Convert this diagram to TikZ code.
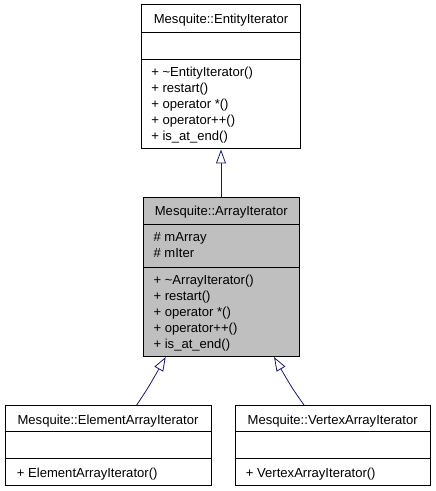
\documentclass[tikz,border=0pt]{standalone}
\usepackage{fontspec}
\setmainfont{Liberation Sans}
\usetikzlibrary{arrows.meta}
\definecolor{edgeblue}{HTML}{191970}
\definecolor{boxgray}{HTML}{BFBFBF}
\begin{document}
\begin{tikzpicture}[x=0.75pt,y=-0.75pt,
  classbox/.style={draw=black,line width=0.75pt,rectangle,inner sep=0pt,fill=white},
  lbl/.style={anchor=base west,inner sep=0pt,font=\fontsize{9.8}{12}\selectfont},
  ttl/.style={anchor=base,inner sep=0pt,font=\fontsize{9.8}{12}\selectfont},
  inh/.style={draw=edgeblue,line width=0.6pt,-{Triangle[open,length=10.5pt,width=7.5pt,fill=white]}}]
\useasboundingbox (0,0) rectangle (435,491);
% boxes
\node[classbox,minimum width=159.4*0.75pt,minimum height=144*0.75pt] (A) at (221,77) {};
\node[classbox,fill=boxgray,minimum width=156*0.75pt,minimum height=159.4*0.75pt] (B) at (221.3,277) {};
\node[classbox,minimum width=206*0.75pt,minimum height=80*0.75pt] (C) at (108,445) {};
\node[classbox,minimum width=194.7*0.75pt,minimum height=80*0.75pt] (D) at (332.7,445) {};
% dividers
\draw[line width=0.75pt] (A.west |- 0,32.3) -- (A.east |- 0,32.3);
\draw[line width=0.75pt] (A.west |- 0,60) -- (A.east |- 0,60);
\draw[line width=0.75pt] (B.west |- 0,224) -- (B.east |- 0,224);
\draw[line width=0.75pt] (B.west |- 0,267.3) -- (B.east |- 0,267.3);
\draw[line width=0.75pt] (C.west |- 0,431.7) -- (C.east |- 0,431.7);
\draw[line width=0.75pt] (C.west |- 0,458.3) -- (C.east |- 0,458.3);
\draw[line width=0.75pt] (D.west |- 0,431.7) -- (D.east |- 0,431.7);
\draw[line width=0.75pt] (D.west |- 0,458.3) -- (D.east |- 0,458.3);
% texts A
\node[ttl] (At) at (221,23.5) {Mesquite::EntityIterator};
\node[lbl] (Am1) at (151,76.5) {+ \textasciitilde EntityIterator()};
\node[lbl] (Am2) at (151,92.4) {+ restart()};
\node[lbl] (Am3) at (151,108.3) {+ operator *()};
\node[lbl] (Am4) at (151,124.2) {+ operator++()};
\node[lbl] (Am5) at (151,140.1) {+ is\_at\_end()};
% texts B
\node[ttl] (Bt) at (221.3,215) {Mesquite::ArrayIterator};
\node[lbl] (Ba1) at (153.3,241) {\# mArray};
\node[lbl] (Ba2) at (153.3,257) {\# mIter};
\node[lbl] (Bm1) at (153.3,284.5) {+ \textasciitilde ArrayIterator()};
\node[lbl] (Bm2) at (153.3,300.4) {+ restart()};
\node[lbl] (Bm3) at (153.3,316.3) {+ operator *()};
\node[lbl] (Bm4) at (153.3,332.2) {+ operator++()};
\node[lbl] (Bm5) at (153.3,348.1) {+ is\_at\_end()};
% texts C, D
\node[ttl] (Ct) at (108,424.5) {Mesquite::ElementArrayIterator};
\node[lbl] (Cm1) at (16.7,477) {+ ElementArrayIterator()};
\node[ttl] (Dt) at (332.7,424.5) {Mesquite::VertexArrayIterator};
\node[lbl] (Dm1) at (245.7,477) {+ VertexArrayIterator()};
% connectors
\coordinate (cs) at (136.7,405);
\coordinate (ce) at (165.7,357);
\coordinate (ds) at (304,405);
\coordinate (de) at (274,357);
\draw[inh] (B.north -| A.south) -- (A.south);
\draw[inh] (cs) .. controls (148,388) .. (ce);
\draw[inh] (ds) .. controls (292,388) .. (de);
\end{tikzpicture}
\end{document}
